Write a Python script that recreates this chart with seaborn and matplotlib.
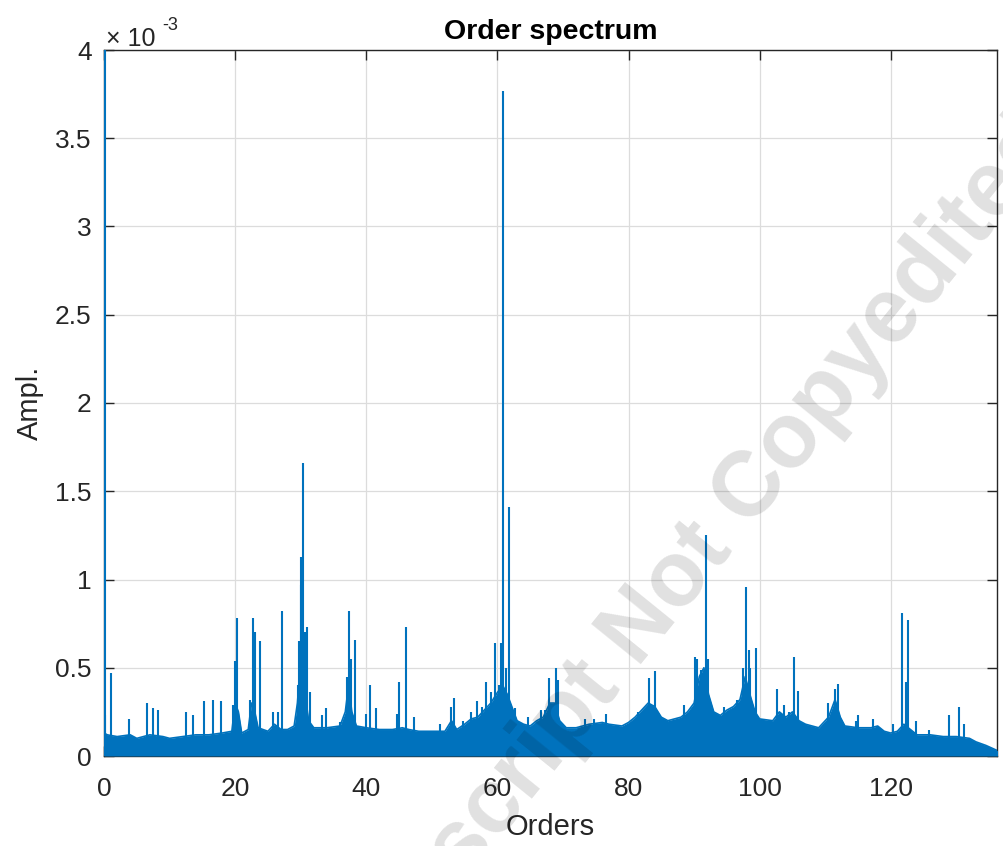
import numpy as np
import pandas as pd
import matplotlib
matplotlib.use("Agg")
import matplotlib.pyplot as plt
import seaborn as sns

# ── Data (amplitudes in units of 1e-3) ───────────────────────────────────────
# Broadband floor of the spectrum
floor_orders = [0, 0.5, 2, 4, 5, 7, 9, 10, 12, 14, 16, 18, 19.5, 20, 20.5, 21,
                22, 22.5, 23, 23.5, 25, 26, 27, 28, 29, 29.5, 29.8, 30.3, 30.7,
                31.2, 32, 34, 36, 36.8, 37.3, 37.8, 38.5, 40, 42, 44, 45.5, 46.5,
                48, 50, 52, 53, 53.8, 55, 56, 57, 58, 59, 60, 60.8, 61.5, 62.2,
                63, 64, 65, 66, 67, 68, 68.7, 69.5, 70.5, 72, 74, 76, 77, 79, 80,
                81, 82, 83, 84, 85, 86, 88, 89, 90, 90.8, 91.5, 92.2, 93, 94, 95,
                96, 97, 97.8, 98.5, 99.3, 100, 102, 103, 104, 105, 106, 107, 109,
                110.5, 111.5, 112.3, 113, 115, 117, 118, 119, 120, 121, 122, 123,
                124, 126, 128, 130, 132, 133, 134.5, 136.3]
floor_levels = [0.13, 0.12, 0.11, 0.12, 0.10, 0.12, 0.11, 0.10, 0.11, 0.12, 0.12,
                0.13, 0.14, 0.30, 0.25, 0.13, 0.15, 0.30, 0.25, 0.16, 0.14, 0.18,
                0.15, 0.15, 0.17, 0.30, 0.45, 0.55, 0.35, 0.20, 0.16, 0.16, 0.17,
                0.25, 0.40, 0.25, 0.17, 0.16, 0.15, 0.15, 0.16, 0.15, 0.14, 0.14,
                0.14, 0.20, 0.15, 0.18, 0.21, 0.22, 0.26, 0.30, 0.36, 0.40, 0.35,
                0.28, 0.20, 0.18, 0.17, 0.20, 0.22, 0.30, 0.30, 0.20, 0.16, 0.16,
                0.18, 0.19, 0.18, 0.17, 0.19, 0.22, 0.26, 0.30, 0.28, 0.22, 0.20,
                0.22, 0.25, 0.30, 0.45, 0.50, 0.35, 0.25, 0.23, 0.26, 0.28, 0.32,
                0.45, 0.35, 0.25, 0.21, 0.20, 0.25, 0.22, 0.25, 0.20, 0.18, 0.16,
                0.22, 0.32, 0.22, 0.17, 0.16, 0.16, 0.17, 0.14, 0.13, 0.14, 0.18,
                0.15, 0.12, 0.12, 0.11, 0.11, 0.10, 0.08, 0.06, 0.03]

# Discrete order lines (peaks)
peak_orders = [0.08, 0.2, 1.0, 3.8, 6.6, 7.4, 8.3, 12.5, 13.5, 15.2, 16.6, 17.8,
               19.6, 20.0, 20.3, 22.3, 22.7, 23.0, 23.8, 25.8, 26.5, 27.1, 29.6,
               29.8, 30.0, 30.1, 30.3, 30.6, 30.9, 31.4, 33.2, 33.9, 36.0, 37.1,
               37.4, 37.7, 38.3, 40.0, 40.6, 41.5, 44.7, 45.0, 46.0, 47.3, 51.3,
               53.0, 53.4, 54.7, 55.9, 56.9, 57.7, 58.3, 59.1, 59.7, 60.3, 60.6,
               60.9, 61.3, 61.8, 62.7, 64.7, 66.6, 67.3, 67.8, 68.9, 69.2, 73.4,
               74.7, 76.5, 81.5, 83.1, 84.0, 88.4, 89.5, 90.2, 90.5, 91.1, 91.8,
               92.1, 94.5, 96.6, 97.5, 97.9, 98.3, 98.6, 99.4, 102.7, 103.7,
               104.4, 105.3, 105.8, 110.5, 111.5, 111.9, 114.7, 115.0, 117.3,
               120.3, 121.7, 122.3, 122.7, 123.8, 125.8, 128.9, 130.4, 131.2]
peak_ampl = [4.5, 0.23, 0.47, 0.21, 0.30, 0.27, 0.26, 0.25, 0.23, 0.31, 0.32, 0.31,
             0.29, 0.54, 0.78, 0.32, 0.78, 0.70, 0.65, 0.25, 0.25, 0.82, 0.40,
             0.65, 0.97, 1.13, 1.66, 0.70, 0.73, 0.36, 0.23, 0.27, 0.19, 0.45,
             0.82, 0.55, 0.66, 0.24, 0.40, 0.27, 0.24, 0.42, 0.73, 0.22, 0.18,
             0.28, 0.33, 0.20, 0.25, 0.31, 0.28, 0.42, 0.36, 0.64, 0.40, 0.64,
             3.77, 0.50, 1.41, 0.27, 0.22, 0.26, 0.26, 0.44, 0.50, 0.43, 0.21,
             0.21, 0.24, 0.25, 0.44, 0.48, 0.29, 0.25, 0.56, 0.55, 0.49, 1.25,
             0.55, 0.28, 0.32, 0.50, 0.96, 0.60, 0.50, 0.61, 0.38, 0.29,
             0.25, 0.56, 0.37, 0.30, 0.38, 0.41, 0.20, 0.23, 0.21,
             0.18, 0.81, 0.42, 0.77, 0.20, 0.15, 0.23, 0.28, 0.18]

x_ticks = [0, 20, 40, 60, 80, 100, 120]
y_ticks = [0, 0.5, 1, 1.5, 2, 2.5, 3, 3.5, 4]

floor_df = pd.DataFrame({"order": floor_orders, "ampl": floor_levels})
peaks_df = pd.DataFrame({"order": peak_orders, "ampl": peak_ampl})

# ── Style (MATLAB-like) ──────────────────────────────────────────────────────
sns.set_theme(style="white")
plt.rcParams["font.family"] = ["Liberation Sans", "DejaVu Sans"]
BLUE = "#0072BD"
INK = "#262626"

fig = plt.figure(figsize=(10.04, 8.46), dpi=100)
ax = fig.add_axes([104 / 1004, 1 - 756 / 846, 893 / 1004, 706 / 846])

sns.lineplot(data=floor_df, x="order", y="ampl", ax=ax, color=BLUE,
             linewidth=1.2, zorder=3)
ax.fill_between(floor_df["order"], 0, floor_df["ampl"], color=BLUE,
                linewidth=0, zorder=3)
ax.vlines(peaks_df["order"], 0, peaks_df["ampl"], color=BLUE,
          linewidth=1.5, zorder=3)

ax.set_xlim(0, 136.2)
ax.set_ylim(0, 4)
ax.set_xticks(x_ticks)
ax.set_yticks(y_ticks)
ax.set_yticklabels([f"{v:g}" for v in y_ticks])
ax.grid(True, color="#dcdcdc", linewidth=0.9, zorder=0)
ax.set_axisbelow(True)
for s in ax.spines.values():
    s.set_color(INK)
    s.set_linewidth(1.0)
ax.tick_params(direction="in", length=7, width=1, color=INK,
               labelsize=19, labelcolor=INK, top=True, right=True,
               bottom=True, left=True, pad=9)
ax.tick_params(axis="x", pad=15)
ax.set_xlabel("Orders", fontsize=21, color=INK, labelpad=9)
ax.set_ylabel("Ampl.", fontsize=21, color=INK, labelpad=8)
ax.set_title("Order spectrum", fontsize=20.5, fontweight="bold", color="black",
             pad=8)

# exponent multiplier, MATLAB style
fig.text(106 / 1004, 1 - 46 / 846, "× 10", fontsize=18, color=INK,
         ha="left", va="baseline")
fig.text(162 / 1004, 1 - 30 / 846, "-3", fontsize=13, color=INK,
         ha="left", va="baseline")

# watermark
fig.text(670 / 1004, 1 - 590 / 846, "Manuscript Not Copyedited", fontsize=66,
         fontweight="bold", color="black", alpha=0.12, rotation=51,
         rotation_mode="anchor", ha="center", va="center", zorder=10)

fig.savefig("out.png", dpi=100)
plt.close(fig)
